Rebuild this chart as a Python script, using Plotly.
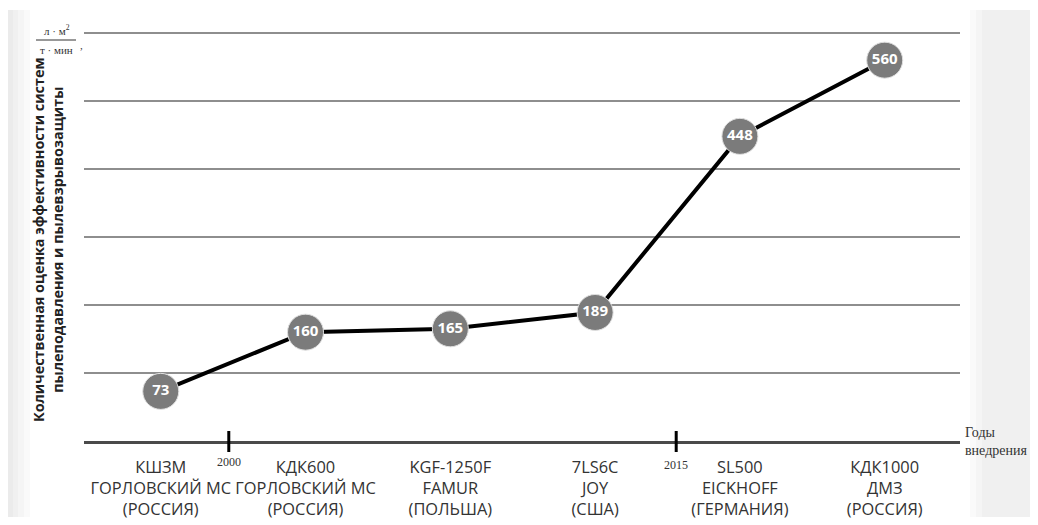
import plotly.graph_objects as go

# ---- data ----
machines = ["КШЗМ", "КДК600", "KGF-1250F", "7LS6C", "SL500", "КДК1000"]
makers = ["ГОРЛОВСКИЙ МС", "ГОРЛОВСКИЙ МС", "FAMUR", "JOY", "EICKHOFF", "ДМЗ"]
countries = ["(РОССИЯ)", "(РОССИЯ)", "(ПОЛЬША)", "(США)", "(ГЕРМАНИЯ)", "(РОССИЯ)"]
values = [73, 160, 165, 189, 448, 560]
year_labels = ["2000", "2015"]

y_title = "Количественная оценка эффективности систем<br>пылеподавления и пылевзрывозащиты"

# ---- layout geometry (screen pixels; page body has an 8px margin) ----
W, H = 1038, 525
OFF = 8
L, R, T, B = 84, 960, 26, 441


def px(x):
    return (x - L) / (R - L)


def py(y):
    return (B - y) / (B - T)


xs = list(range(len(values)))
ticktext = [f"{m}<br>{k}<br>{c}" for m, k, c in zip(machines, makers, countries)]
year_pos = [0.47, 3.56]

fig = go.Figure()
fig.add_trace(go.Scatter(
    x=xs, y=values, mode="lines+markers+text",
    text=[str(v) for v in values], textposition="middle center",
    textfont=dict(family="Open Sans", size=15, color="white", weight="bold"),
    line=dict(color="black", width=4),
    marker=dict(size=36, color="#7b7b7b", line=dict(color="#e0e0e0", width=1)),
    cliponaxis=False, showlegend=False, hoverinfo="skip",
))

shapes = []
# scan-like shading at page edges
for w in [30, 24, 18, 13]:
    shapes.append(dict(type="rect", xref="paper", yref="paper",
                       x0=px(OFF), x1=px(w), y0=py(517), y1=py(10),
                       fillcolor="black", opacity=0.02, line=dict(width=0), layer="below"))
for x0 in [970, 976, 982]:
    shapes.append(dict(type="rect", xref="paper", yref="paper",
                       x0=px(x0), x1=px(W + 5), y0=py(517), y1=py(10),
                       fillcolor="black", opacity=0.021, line=dict(width=0), layer="below"))
# year tick marks
for xp in year_pos:
    shapes.append(dict(type="line", xref="x", yref="paper", x0=xp, x1=xp,
                       y0=py(452), y1=py(431), line=dict(color="black", width=3)))
# fraction bar of the unit
shapes.append(dict(type="line", xref="paper", yref="paper", x0=px(36), x1=px(76),
                   y0=py(40), y1=py(40), line=dict(color="#333", width=1)))

annotations = [
    dict(text=y_title, xref="paper", yref="paper", x=px(48), y=py(240),
         textangle=-90, showarrow=False, xanchor="center", yanchor="middle",
         font=dict(family="Open Sans", size=14.4, color="#222", weight="bold")),
    dict(text="л · м<sup>2</sup>", xref="paper", yref="paper", x=px(57), y=py(39),
         showarrow=False, xanchor="center", yanchor="bottom",
         font=dict(family="Liberation Serif", size=11, color="#333")),
    dict(text="т · мин", xref="paper", yref="paper", x=px(56), y=py(42),
         showarrow=False, xanchor="center", yanchor="top",
         font=dict(family="Liberation Serif", size=11, color="#333")),
    dict(text=",", xref="paper", yref="paper", x=px(78), y=py(37),
         showarrow=False, font=dict(family="Liberation Serif", size=11, color="#333")),
    dict(text="Годы<br>внедрения", xref="paper", yref="paper", x=px(963), y=py(441),
         xanchor="left", yanchor="middle", align="left", showarrow=False,
         font=dict(family="Liberation Serif", size=14, color="#333")),
]
for xp, lab, yy in zip(year_pos, year_labels, [462, 465]):
    annotations.append(dict(text=lab, xref="x", yref="paper", x=xp, y=py(yy),
                            showarrow=False, xanchor="center", yanchor="middle",
                            font=dict(family="Liberation Serif", size=12, color="#333")))

fig.update_layout(
    width=W - OFF, height=H - OFF,
    margin=dict(l=L - OFF, r=W - R, t=T - OFF, b=H - B, autoexpand=False),
    paper_bgcolor="white", plot_bgcolor="white",
    shapes=shapes, annotations=annotations,
    xaxis=dict(range=[-0.53, 5.52], tickmode="array", tickvals=xs, ticktext=ticktext,
               showgrid=False, zeroline=False, showline=True, linecolor="#4a4a4a",
               linewidth=3, ticks="", ticklabelstandoff=9, automargin=False,
               tickfont=dict(family="Open Sans", size=16.4, color="#333")),
    yaxis=dict(range=[0, 610.3], tickmode="array", tickvals=[100, 200, 300, 400, 500, 600],
               showgrid=True, gridcolor="#8e8e8e", automargin=False,
               gridwidth=1.5, zeroline=False, showline=False, showticklabels=False,
               ticks=""),
)

fig.write_html("out.html", config={"displayModeBar": False})
